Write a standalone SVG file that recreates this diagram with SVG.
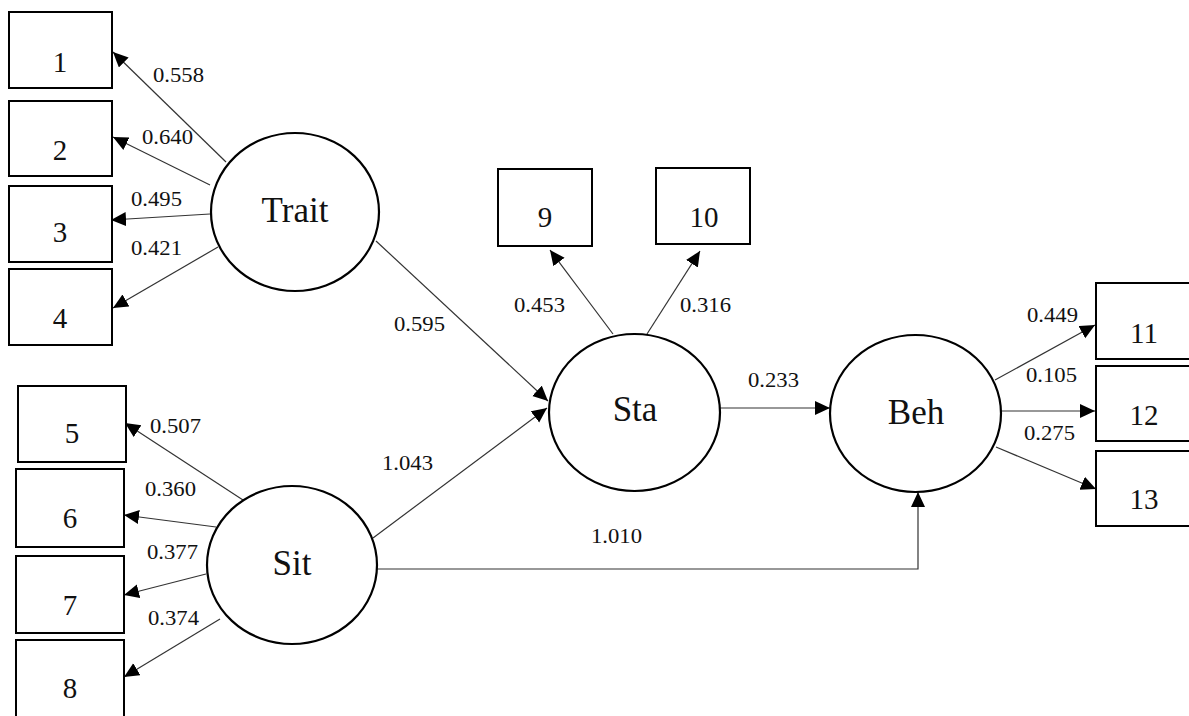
<svg xmlns="http://www.w3.org/2000/svg" width="1189" height="716" viewBox="0 0 1189 716">
<style>
.box{fill:#fff;stroke:#000;stroke-width:2}
.lat{fill:#fff;stroke:#000;stroke-width:2.2}
.edge{fill:none;stroke:#333;stroke-width:1.2}
text{font-family:"Liberation Serif","Times New Roman",serif;fill:#111}
.bt{font-size:29px;text-anchor:middle}
.lt{font-size:35px;text-anchor:middle}
.nl{font-size:21px}
</style>
<defs>
<marker id="ah" markerUnits="userSpaceOnUse" markerWidth="16" markerHeight="15" refX="15" refY="7" orient="auto">
<path d="M0,0 L15,7 L0,14 z" fill="#000"/>
</marker>
</defs>
<rect width="1189" height="716" fill="#fff"/>

<g id="connectors">
<line class="edge" x1="226" y1="162" x2="113" y2="52" marker-end="url(#ah)"/>
<line class="edge" x1="210" y1="185" x2="113" y2="137" marker-end="url(#ah)"/>
<line class="edge" x1="210" y1="214" x2="111" y2="220" marker-end="url(#ah)"/>
<line class="edge" x1="218" y1="247" x2="113" y2="308" marker-end="url(#ah)"/>
<line class="edge" x1="243" y1="500" x2="125" y2="423" marker-end="url(#ah)"/>
<line class="edge" x1="216" y1="527" x2="124" y2="515" marker-end="url(#ah)"/>
<line class="edge" x1="206" y1="574" x2="124" y2="595" marker-end="url(#ah)"/>
<line class="edge" x1="220" y1="619" x2="124" y2="677" marker-end="url(#ah)"/>
<line class="edge" x1="376" y1="241" x2="548" y2="401" marker-end="url(#ah)"/>
<line class="edge" x1="373" y1="538" x2="547" y2="408" marker-end="url(#ah)"/>
<line class="edge" x1="613" y1="334" x2="550" y2="250" marker-end="url(#ah)"/>
<line class="edge" x1="647" y1="334" x2="700" y2="251" marker-end="url(#ah)"/>
<line class="edge" x1="720" y1="408" x2="830" y2="408" marker-end="url(#ah)"/>
<polyline class="edge" points="377,569 918,569 918,492" marker-end="url(#ah)"/>
<line class="edge" x1="995" y1="380" x2="1095" y2="325" marker-end="url(#ah)"/>
<line class="edge" x1="1001" y1="411" x2="1095" y2="411" marker-end="url(#ah)"/>
<line class="edge" x1="996" y1="447" x2="1096" y2="489" marker-end="url(#ah)"/>
</g>

<g id="labels">
<text class="nl" x="153" y="82" textLength="51" lengthAdjust="spacingAndGlyphs">0.558</text>
<text class="nl" x="142" y="144" textLength="51" lengthAdjust="spacingAndGlyphs">0.640</text>
<text class="nl" x="131" y="206" textLength="51" lengthAdjust="spacingAndGlyphs">0.495</text>
<text class="nl" x="131" y="255" textLength="51" lengthAdjust="spacingAndGlyphs">0.421</text>
<text class="nl" x="150" y="433" textLength="51" lengthAdjust="spacingAndGlyphs">0.507</text>
<text class="nl" x="145" y="496" textLength="51" lengthAdjust="spacingAndGlyphs">0.360</text>
<text class="nl" x="147" y="559" textLength="51" lengthAdjust="spacingAndGlyphs">0.377</text>
<text class="nl" x="148" y="625" textLength="51" lengthAdjust="spacingAndGlyphs">0.374</text>
<text class="nl" x="394" y="331" textLength="51" lengthAdjust="spacingAndGlyphs">0.595</text>
<text class="nl" x="382" y="470" textLength="51" lengthAdjust="spacingAndGlyphs">1.043</text>
<text class="nl" x="514" y="312" textLength="51" lengthAdjust="spacingAndGlyphs">0.453</text>
<text class="nl" x="680" y="312" textLength="51" lengthAdjust="spacingAndGlyphs">0.316</text>
<text class="nl" x="748" y="387" textLength="51" lengthAdjust="spacingAndGlyphs">0.233</text>
<text class="nl" x="591" y="543" textLength="51" lengthAdjust="spacingAndGlyphs">1.010</text>
<text class="nl" x="1027" y="322" textLength="51" lengthAdjust="spacingAndGlyphs">0.449</text>
<text class="nl" x="1026" y="382" textLength="51" lengthAdjust="spacingAndGlyphs">0.105</text>
<text class="nl" x="1024" y="440" textLength="51" lengthAdjust="spacingAndGlyphs">0.275</text>
</g>

<g id="box1"><rect class="box" x="9" y="12" width="103" height="76"/><text class="bt" x="60" y="72">1</text></g>
<g id="box2"><rect class="box" x="9" y="101" width="103" height="75"/><text class="bt" x="60" y="160">2</text></g>
<g id="box3"><rect class="box" x="9" y="186" width="103" height="76"/><text class="bt" x="60" y="242">3</text></g>
<g id="box4"><rect class="box" x="9" y="269" width="103" height="76"/><text class="bt" x="60" y="328">4</text></g>
<g id="box5"><rect class="box" x="18" y="386" width="108" height="76"/><text class="bt" x="72" y="443">5</text></g>
<g id="box6"><rect class="box" x="16" y="469" width="108" height="78"/><text class="bt" x="70" y="528">6</text></g>
<g id="box7"><rect class="box" x="16" y="556" width="108" height="77"/><text class="bt" x="70" y="615">7</text></g>
<g id="box8"><rect class="box" x="16" y="640" width="108" height="90"/><text class="bt" x="70" y="698">8</text></g>
<g id="box9"><rect class="box" x="498" y="169" width="94" height="77"/><text class="bt" x="545" y="227">9</text></g>
<g id="box10"><rect class="box" x="656" y="168" width="94" height="76"/><text class="bt" x="704" y="227">10</text></g>
<g id="box11"><rect class="box" x="1096" y="283" width="110" height="76"/><text class="bt" x="1144" y="343">11</text></g>
<g id="box12"><rect class="box" x="1096" y="366" width="110" height="75"/><text class="bt" x="1144" y="425">12</text></g>
<g id="box13"><rect class="box" x="1096" y="451" width="110" height="75"/><text class="bt" x="1144" y="509">13</text></g>

<g id="Trait"><ellipse class="lat" cx="295" cy="212" rx="84" ry="79"/><text class="lt" x="295" y="222">Trait</text></g>
<g id="Sit"><ellipse class="lat" cx="292" cy="565" rx="85" ry="79"/><text class="lt" x="292" y="575">Sit</text></g>
<g id="Sta"><ellipse class="lat" cx="634.5" cy="412.5" rx="85.5" ry="78.5"/><text class="lt" x="635" y="421">Sta</text></g>
<g id="Beh"><ellipse class="lat" cx="915.5" cy="413.5" rx="85.5" ry="78.5"/><text class="lt" x="916" y="424">Beh</text></g>
</svg>
